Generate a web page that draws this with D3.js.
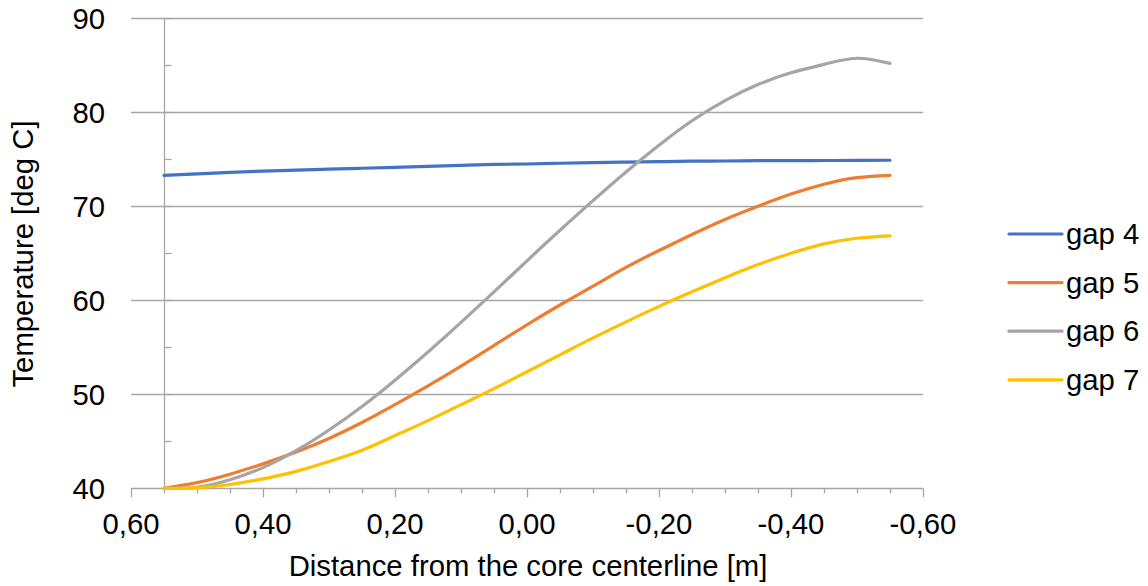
<!DOCTYPE html>
<html>
<head>
<meta charset="utf-8">
<script src="https://cdn.jsdelivr.net/npm/d3@7"></script>
<style>
  html, body { margin: 0; padding: 0; background: #fff; }
  svg { display: block; font-family: "Liberation Sans", Arial, sans-serif; }
</style>
</head>
<body>
<div id="chart"></div>
<script>
// distance from core centerline [m]
const distances = [0.55, 0.50, 0.45, 0.40, 0.35, 0.30, 0.25, 0.20, 0.15, 0.10, 0.05, 0.00,
  -0.05, -0.10, -0.15, -0.20, -0.25, -0.30, -0.35, -0.40, -0.45, -0.50, -0.55];

const gap4 = [73.3, 73.45, 73.6, 73.75, 73.85, 73.95, 74.05, 74.15, 74.25, 74.35, 74.45, 74.5,
  74.58, 74.65, 74.7, 74.75, 74.8, 74.82, 74.85, 74.86, 74.87, 74.88, 74.9];
const gap5 = [40.0, 40.6, 41.5, 42.6, 43.85, 45.3, 47.0, 48.9, 50.9, 53.0, 55.2, 57.4,
  59.5, 61.5, 63.5, 65.3, 67.0, 68.6, 70.0, 71.3, 72.35, 73.05, 73.3];
const gap6 = [40.0, 40.1, 40.9, 42.2, 44.0, 46.2, 48.7, 51.5, 54.5, 57.65, 60.9, 64.2,
  67.45, 70.6, 73.65, 76.5, 79.1, 81.25, 82.95, 84.2, 85.1, 85.75, 85.2];
const gap7 = [40.0, 40.05, 40.4, 41.0, 41.8, 42.85, 44.05, 45.6, 47.2, 48.9, 50.6, 52.4,
  54.2, 56.0, 57.7, 59.35, 60.9, 62.4, 63.8, 65.0, 66.0, 66.6, 66.85];

const seriesNames = ["gap 4", "gap 5", "gap 6", "gap 7"];
const seriesValues = [gap4, gap5, gap6, gap7];
const seriesColors = ["#4472C4", "#ED7D31", "#A5A5A5", "#FFC000"];

const xTicks = [0.6, 0.4, 0.2, 0.0, -0.2, -0.4, -0.6];
const yTicks = [40, 50, 60, 70, 80, 90];

const W = 1148, H = 586;
const fontSize = 29.3;
const gridColor = "#a6a6a6";

const svg = d3.select("#chart").append("svg")
  .attr("width", W).attr("height", H);

const x = d3.scaleLinear().domain([0.6, -0.6]).range([131, 923]);
const y = d3.scaleLinear().domain([40, 90]).range([488.3, 18.3]);
const fmt = (v) => v.toFixed(2).replace(".", ",");

// horizontal gridlines
svg.append("g").selectAll("line").data(yTicks.slice(1)).join("line")
  .attr("x1", x(0.6)).attr("x2", x(-0.6))
  .attr("y1", (d) => Math.round(y(d)) + 0.5).attr("y2", (d) => Math.round(y(d)) + 0.5)
  .attr("stroke", gridColor).attr("stroke-width", 1.3);

// x axis (bottom), major every 0.2 and minor every 0.05
const xMinor = d3.range(-0.6, 0.6001, 0.05);
const xAxisG = svg.append("g");
xAxisG.append("line")
  .attr("x1", x(0.6)).attr("x2", x(-0.6))
  .attr("y1", Math.round(y(40)) + 0.5).attr("y2", Math.round(y(40)) + 0.5)
  .attr("stroke", gridColor).attr("stroke-width", 1.3);
xAxisG.selectAll("line.minor").data(xMinor).join("line")
  .attr("class", "minor")
  .attr("x1", (d) => Math.round(x(d)) + 0.5).attr("x2", (d) => Math.round(x(d)) + 0.5)
  .attr("y1", y(40)).attr("y2", (d) => {
    const major = Math.abs(Math.round(d * 5) - d * 5) < 1e-6;
    return y(40) + (major ? 9 : 5);
  })
  .attr("stroke", gridColor).attr("stroke-width", 1.3);
xAxisG.selectAll("text").data(xTicks).join("text")
  .attr("x", (d) => x(d)).attr("y", 534)
  .attr("text-anchor", "middle")
  .attr("font-size", fontSize).attr("fill", "#000")
  .text(fmt);

// y axis, crossing the x axis at 0.55
const yAxisX = Math.round(x(0.55)) + 0.5;
const yAxisG = svg.append("g");
yAxisG.append("line")
  .attr("x1", yAxisX).attr("x2", yAxisX)
  .attr("y1", y(90)).attr("y2", y(40))
  .attr("stroke", gridColor).attr("stroke-width", 1.3);
yAxisG.selectAll("line.tick").data(d3.range(40, 90.1, 5)).join("line")
  .attr("class", "tick")
  .attr("x1", yAxisX).attr("x2", yAxisX + 7)
  .attr("y1", (d) => Math.round(y(d)) + 0.5).attr("y2", (d) => Math.round(y(d)) + 0.5)
  .attr("stroke", gridColor).attr("stroke-width", 1.3);
yAxisG.selectAll("text").data(yTicks).join("text")
  .attr("x", 105).attr("y", (d) => y(d) + 10.5)
  .attr("text-anchor", "end")
  .attr("font-size", fontSize).attr("fill", "#000")
  .text((d) => d);

// axis titles
svg.append("text")
  .attr("x", 528).attr("y", 576)
  .attr("text-anchor", "middle")
  .attr("font-size", fontSize).attr("fill", "#000")
  .text("Distance from the core centerline [m]");
svg.append("text")
  .attr("transform", "translate(33,254) rotate(-90)")
  .attr("text-anchor", "middle")
  .attr("font-size", fontSize).attr("fill", "#000")
  .text("Temperature [deg C]");

// series lines (smoothed like the spreadsheet chart)
const line = d3.line()
  .x((d) => x(d[0]))
  .y((d) => y(d[1]))
  .curve(d3.curveNatural);

svg.append("g").selectAll("path").data(seriesValues).join("path")
  .attr("d", (vals) => line(vals.map((v, i) => [distances[i], v])))
  .attr("fill", "none")
  .attr("stroke", (d, i) => seriesColors[i])
  .attr("stroke-width", 3.2)
  .attr("stroke-linecap", "round")
  .attr("stroke-linejoin", "round");

// legend
const legend = svg.append("g");
const legendY = (i) => 234 + i * 48.6;
legend.selectAll("line").data(seriesNames).join("line")
  .attr("x1", 1009).attr("x2", 1062)
  .attr("y1", (d, i) => legendY(i)).attr("y2", (d, i) => legendY(i))
  .attr("stroke", (d, i) => seriesColors[i])
  .attr("stroke-width", 3.2)
  .attr("stroke-linecap", "round");
legend.selectAll("text").data(seriesNames).join("text")
  .attr("x", 1066).attr("y", (d, i) => legendY(i) + 10)
  .attr("font-size", fontSize).attr("fill", "#000")
  .text((d) => d);
</script>
</body>
</html>
